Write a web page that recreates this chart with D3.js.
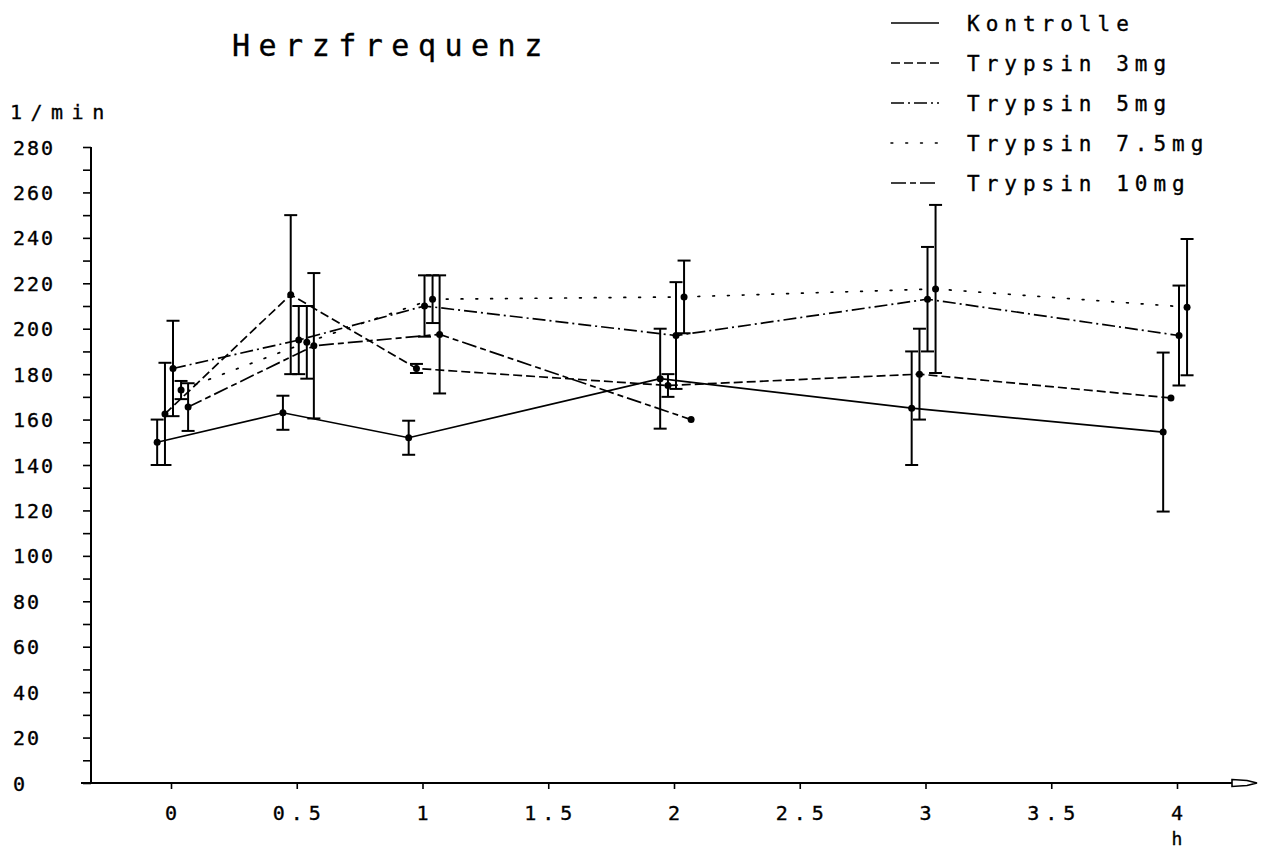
<!DOCTYPE html>
<html>
<head>
<meta charset="utf-8">
<script src="https://cdn.jsdelivr.net/npm/d3@7"></script>
<style>
  body { margin: 0; background: #fff; }
  svg { display: block; }
  text { font-family: "DejaVu Sans Mono", "Liberation Mono", monospace; fill: #000; stroke: #000; stroke-width: 0.35; }
</style>
</head>
<body>
<div id="chart"></div>
<script>
// time points (h) and tick labels
const times = [0, 0.5, 1, 2, 3, 4];
const xTickLabels = [0, 0.5, 1, 1.5, 2, 2.5, 3, 3.5, 4];
const yTickLabels = [0, 20, 40, 60, 80, 100, 120, 140, 160, 180, 200, 220, 240, 260, 280];

const seriesNames = ["Kontrolle", "Trypsin 3mg", "Trypsin 5mg", "Trypsin 7.5mg", "Trypsin 10mg"];
// each group is plotted slightly shifted in time so the error bars don't overlap (h)
const timeShift = [-0.055, -0.024, 0.008, 0.04, 0.068];

// heart rate mean and SD per time point (null = no value)
const kontrolleMean = [150, 163, 152, 178, 165, 154.5];
const kontrolleSd = [10, 7.5, 7.5, 22, 25, 35];
const trypsin3Mean = [162.5, 215, 182.5, 175, 180, 169.5];
const trypsin3Sd = [22.5, 35, 2, 5, 20, null];
const trypsin5Mean = [182.5, 195, 210, 197, 213, 197];
const trypsin5Sd = [21, 15, 13.5, 23.5, 23, 22];
const trypsin75Mean = [173, 194, 213, 214, 217.5, 209.5];
const trypsin75Sd = [4, 16, 10.5, 16, 37, 30];
const trypsin10Mean = [165.5, 192.5, 197.5, 160, null, null];
const trypsin10Sd = [10.5, 32, 26, null, null, null];

const dashes = [null, "9,4", "13,4,2,4", "1.8,13", "15,4,6,4"];

const width = 1263;
const height = 849;

const svg = d3.select("#chart")
  .append("svg")
  .attr("width", width)
  .attr("height", height);

const x = d3.scaleLinear().domain([0, 4]).range([171, 1177]);
const y = d3.scaleLinear().domain([0, 280]).range([783, 147]);

const means = [kontrolleMean, trypsin3Mean, trypsin5Mean, trypsin75Mean, trypsin10Mean];
const sds = [kontrolleSd, trypsin3Sd, trypsin5Sd, trypsin75Sd, trypsin10Sd];

const series = seriesNames.map((name, i) => ({
  name,
  dash: dashes[i],
  points: times
    .map((t, j) => ({ t: t + timeShift[i], mean: means[i][j], sd: sds[i][j] }))
    .filter(d => d.mean != null)
}));

// title
svg.append("text")
  .attr("x", 232)
  .attr("y", 56)
  .attr("font-size", 30)
  .attr("letter-spacing", 8.5)
  .text("Herzfrequenz");

// y axis
const yAxis = svg.append("g")
  .attr("transform", "translate(91,0)")
  .call(d3.axisLeft(y).ticks(28).tickSize(8).tickFormat(""));
yAxis.select(".domain").attr("d", `M0,${y(0)}V${y(280)}`).attr("stroke-width", 2);
yAxis.selectAll(".tick line").attr("stroke-width", 1.6);

svg.append("g")
  .selectAll("text")
  .data(yTickLabels)
  .join("text")
  .attr("x", 13)
  .attr("y", d => y(d) + 7.5)
  .attr("font-size", 20)
  .attr("letter-spacing", 2)
  .text(d => d);

svg.append("text")
  .attr("x", 10)
  .attr("y", 119)
  .attr("font-size", 20)
  .attr("letter-spacing", 8.5)
  .text("1/min");

// x axis with arrow
const xAxis = svg.append("g")
  .attr("transform", `translate(0,${y(0)})`)
  .call(d3.axisBottom(x).tickValues(xTickLabels).tickSize(6).tickFormat(""));
xAxis.select(".domain").attr("d", "M81,0H1232").attr("stroke-width", 2);
xAxis.selectAll(".tick line").attr("stroke-width", 1.6);

svg.append("path")
  .attr("d", `M1232,${y(0) - 3.5}L1247,${y(0) - 2.5}L1257,${y(0)}L1247,${y(0) + 2.5}L1232,${y(0) + 3.5}Z`)
  .attr("fill", "#fff")
  .attr("stroke", "#000")
  .attr("stroke-width", 1.6);

svg.append("g")
  .selectAll("text")
  .data(xTickLabels)
  .join("text")
  .attr("x", d => x(d))
  .attr("dx", 3)
  .attr("y", 820)
  .attr("text-anchor", "middle")
  .attr("font-size", 20)
  .attr("letter-spacing", 6)
  .text(d => d);

svg.append("text")
  .attr("x", x(4))
  .attr("y", 845)
  .attr("text-anchor", "middle")
  .attr("font-size", 18)
  .text("h");

// lines
const line = d3.line()
  .x(d => x(d.t))
  .y(d => y(d.mean));

const groups = svg.append("g")
  .selectAll("g")
  .data(series)
  .join("g");

groups.append("path")
  .attr("d", d => line(d.points))
  .attr("fill", "none")
  .attr("stroke", "#000")
  .attr("stroke-width", 1.7)
  .attr("stroke-linecap", d => d.name === "Trypsin 7.5mg" ? "round" : "butt")
  .attr("stroke-dasharray", d => d.dash);

// error bars
const bars = groups.selectAll(".bar")
  .data(d => d.points.filter(p => p.sd != null))
  .join("g")
  .attr("class", "bar")
  .attr("stroke", "#000")
  .attr("stroke-width", 2);

bars.append("line")
  .attr("x1", d => x(d.t))
  .attr("x2", d => x(d.t))
  .attr("y1", d => y(d.mean + d.sd))
  .attr("y2", d => y(d.mean - d.sd));

bars.append("line")
  .attr("x1", d => x(d.t) - 6.5)
  .attr("x2", d => x(d.t) + 6.5)
  .attr("y1", d => y(d.mean + d.sd))
  .attr("y2", d => y(d.mean + d.sd));

bars.append("line")
  .attr("x1", d => x(d.t) - 6.5)
  .attr("x2", d => x(d.t) + 6.5)
  .attr("y1", d => y(d.mean - d.sd))
  .attr("y2", d => y(d.mean - d.sd));

// points
groups.selectAll("circle")
  .data(d => d.points)
  .join("circle")
  .attr("cx", d => x(d.t))
  .attr("cy", d => y(d.mean))
  .attr("r", 3.5)
  .attr("fill", "#000");

// legend
const legend = svg.append("g")
  .selectAll("g")
  .data(series)
  .join("g")
  .attr("transform", (d, i) => `translate(0,${23 + i * 40})`);

legend.append("line")
  .attr("x1", 891)
  .attr("x2", 939)
  .attr("stroke", "#000")
  .attr("stroke-width", 1.6)
  .attr("stroke-linecap", d => d.name === "Trypsin 7.5mg" ? "round" : "butt")
  .attr("stroke-dasharray", d => d.dash);

legend.append("text")
  .attr("x", 967)
  .attr("y", 8)
  .attr("font-size", 21)
  .attr("letter-spacing", 6)
  .text(d => d.name);
</script>
</body>
</html>
